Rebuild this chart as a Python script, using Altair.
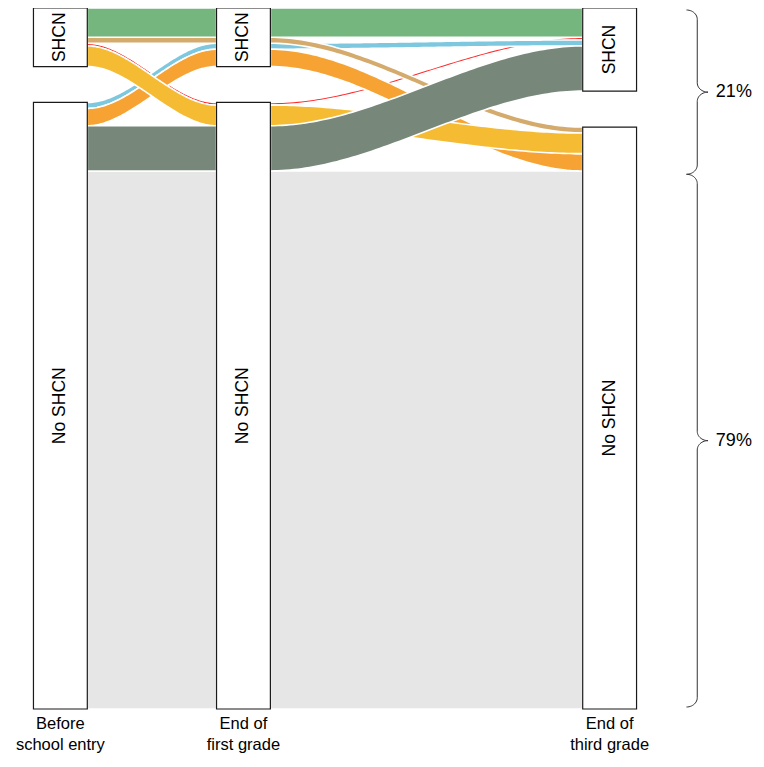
import altair as alt
import pandas as pd
import numpy as np

# ---------------- data ----------------
stage_labels = ["Before\nschool entry", "End of\nfirst grade", "End of\nthird grade"]
stage_x = [0, 1, 3]                      # years since school entry
state_names = ["SHCN", "No SHCN"]
# trajectories: state at each stage (0 = SHCN, 1 = No SHCN)
traj_s1 = [0, 0, 0, 0, 1, 1, 1, 1]
traj_s2 = [0, 0, 1, 1, 0, 0, 1, 1]
traj_s3 = [0, 1, 0, 1, 0, 1, 0, 1]
traj_share = [4.4, 0.9, 0.4, 3.1, 0.9, 2.6, 6.8, 80.9]   # % of children
traj_colors = ["#74b67d", "#d5aa6d", "#ff2a2a", "#f5bb33",
               "#7dc8de", "#f6a334", "#77887a", "#e6e6e6"]
brace_labels = ["21%", "79%"]

# ---------------- layout ----------------
SCALE = 748 / 764
PXY = 187 * SCALE                 # px per year on x
GAP = 5.4                         # gap between nodes (in % units)
TOTAL = sum(traj_share) + GAP
PXU = 716 * SCALE / TOTAL         # px per % unit on y
W, H = 748, 748
XMIN = -26 * SCALE / PXY
XMAX = XMIN + W / PXY
YMAX = H / PXU
NODE_W = 55 / 187

states = list(zip(traj_s1, traj_s2, traj_s3))
n = len(traj_share)
lode = {}
nodes = []
for k in range(3):
    tot_s = sum(v for v, st in zip(traj_share, states) if st[k] == 0)
    pos = {0: 0.0, 1: tot_s + GAP}
    start = dict(pos)
    for i in range(n):
        s = states[i][k]
        lode[(i, k)] = (pos[s], pos[s] + traj_share[i])
        pos[s] += traj_share[i]
    for s in (0, 1):
        nodes.append(dict(x=stage_x[k], x2=stage_x[k] + NODE_W, xc=stage_x[k] + NODE_W / 2,
                          y=start[s], y2=pos[s], yc=(start[s] + pos[s]) / 2,
                          label=state_names[s]))
nodes_df = pd.DataFrame(nodes)

flow_rows = []
for i in range(n):
    for k in range(2):
        xl = stage_x[k] + NODE_W
        xr = stage_x[k + 1]
        a0, a1 = lode[(i, k)]
        b0, b1 = lode[(i, k + 1)]
        for j in range(81):
            u = j / 80
            w = u * u * (3 - 2 * u)
            flow_rows.append(dict(traj=i, seg=k, x=xl + (xr - xl) * u,
                                  y=a0 + (b0 - a0) * w, y2=a1 + (b1 - a1) * w))
flows_df = pd.DataFrame(flow_rows)

xs = alt.Scale(domain=[XMIN, XMAX], nice=False, zero=False)
ys = alt.Scale(domain=[0, YMAX], nice=False, zero=False, reverse=True)

layers = []
draw_order = sorted(range(n), key=lambda i: (traj_share[i], -i))
draw_order = [7] + [i for i in draw_order if i != 7]
for i in draw_order:
    d = flows_df[flows_df.traj == i]
    layers.append(
        alt.Chart(d).mark_area(fill=traj_colors[i], stroke="white", strokeWidth=1.6,
                               interpolate="linear")
        .encode(x=alt.X("x:Q", scale=xs, axis=None),
                y=alt.Y("y:Q", scale=ys, axis=None),
                y2="y2:Q",
                detail="seg:N")
    )

node_layer = alt.Chart(nodes_df).mark_rect(fill="white", stroke="#1a1a1a", strokeWidth=1.2).encode(
    x=alt.X("x:Q", scale=xs, axis=None), x2="x2:Q",
    y=alt.Y("y:Q", scale=ys, axis=None), y2="y2:Q")
node_text = alt.Chart(nodes_df).mark_text(angle=270, font="Liberation Sans", fontSize=17.5,
                                          color="black", align="center", baseline="middle").encode(
    x=alt.X("xc:Q", scale=xs, axis=None), y=alt.Y("yc:Q", scale=ys, axis=None), text="label:N")

stage_df = pd.DataFrame(dict(x=[sx + NODE_W / 2 for sx in stage_x],
                             y=[TOTAL + 1.0] * 3, label=stage_labels))
stage_text = alt.Chart(stage_df).mark_text(font="Liberation Sans Narrow, Arial Narrow, Liberation Sans",
                                           fontSize=16.5, lineBreak="\n", lineHeight=21.5,
                                           align="center", baseline="top", color="black").encode(
    x=alt.X("x:Q", scale=xs, axis=None), y=alt.Y("y:Q", scale=ys, axis=None), text="label:N")

# braces
boundary = lode[(7, 0)][0]
brace_spans = [(0.3, boundary + 0.5), (boundary + 0.5, TOTAL - 0.3)]
XEND = (693 - 26) / 187
XV = (704 - 26) / 187
XTIP = (715 - 26) / 187
XTXT = (723 - 26) / 187
R = 1.4
brace_rows = []
label_rows = []
for b, (y0, y1) in enumerate(brace_spans):
    ym = (y0 + y1) / 2
    pts = []
    th = np.linspace(0, np.pi / 2, 14)
    for t in th:
        pts.append((XEND + (XV - XEND) * np.sin(t), y0 + R - R * np.cos(t)))
    for t in th:
        pts.append((XV + (XTIP - XV) * (1 - np.cos(t)), ym - R + R * np.sin(t)))
    for t in th[::-1]:
        pts.append((XV + (XTIP - XV) * (1 - np.cos(t)), ym + R - R * np.sin(t)))
    for t in th[::-1]:
        pts.append((XEND + (XV - XEND) * np.sin(t), y1 - R + R * np.cos(t)))
    for o, (px, py) in enumerate(pts):
        brace_rows.append(dict(b=b, o=o, x=px, y=py))
    label_rows.append(dict(x=XTXT, y=ym, label=brace_labels[b]))
brace_df = pd.DataFrame(brace_rows)
blabel_df = pd.DataFrame(label_rows)

brace_layer = alt.Chart(brace_df).mark_line(color="#333333", strokeWidth=1).encode(
    x=alt.X("x:Q", scale=xs, axis=None), y=alt.Y("y:Q", scale=ys, axis=None),
    detail="b:N", order="o:Q")
brace_text = alt.Chart(blabel_df).mark_text(font="Liberation Sans", fontSize=18, align="left",
                                            baseline="middle", color="black").encode(
    x=alt.X("x:Q", scale=xs, axis=None), y=alt.Y("y:Q", scale=ys, axis=None), text="label:N")

chart = alt.layer(*layers, node_layer, node_text, stage_text, brace_layer, brace_text).properties(
    width=W, height=H, padding=0, autosize=alt.AutoSizeParams(type="none"),
    background="white"
).configure_view(stroke=None)

chart.save("out.html", embed_options={"renderer": "svg", "actions": False})
